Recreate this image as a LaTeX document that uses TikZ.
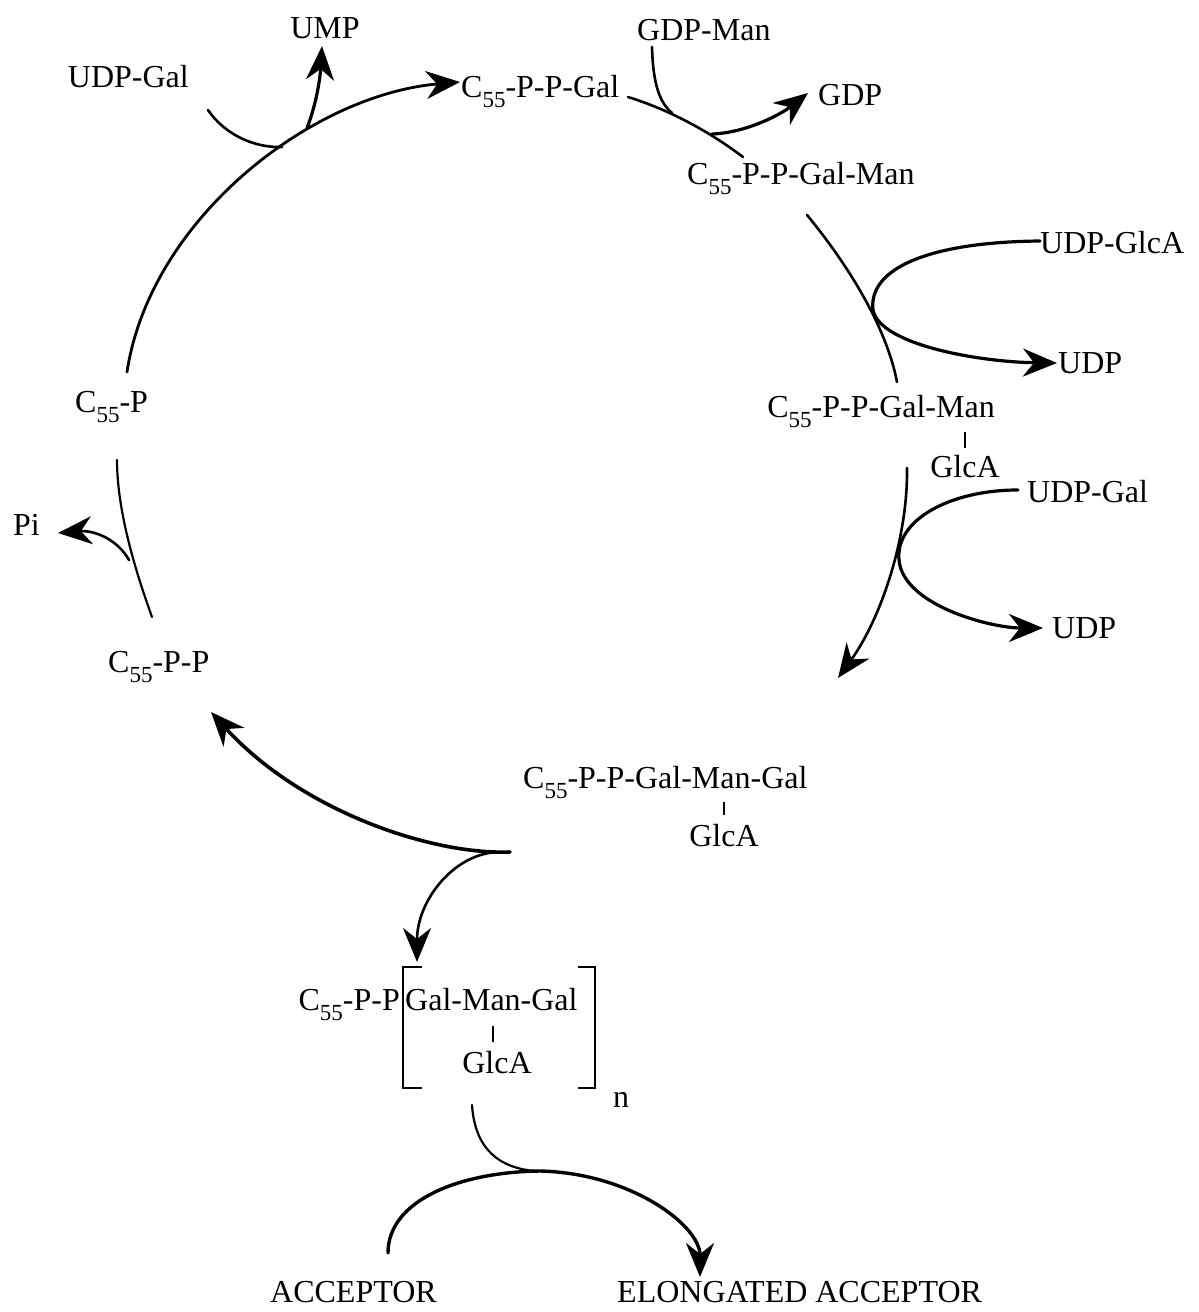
\documentclass[tikz,border=0pt]{standalone}
\usepackage{fontspec}
\setmainfont{Liberation Serif}
\usetikzlibrary{arrows.meta}
\newcommand{\cff}{C\raisebox{-10pt}{\fontsize{23}{23}\selectfont 55}}
\begin{document}
\begin{tikzpicture}[x=1pt,y=-1pt,
  lbl/.style={inner sep=0pt, font=\fontsize{32}{38}\selectfont},
  ln/.style={line width=2.6pt, line cap=round},
  thk/.style={line width=3.2pt, line cap=round},
  arr/.style={thk, -{Stealth[length=34pt,width=28pt,inset=11pt]}},
  bond/.style={line width=1.6pt},
  brk/.style={line width=2.8pt, line join=miter},
]
\useasboundingbox (0,0) rectangle (1199,1312);
% labels
\node[lbl, anchor=base east] (udpgal1) at (189,87) {UDP-Gal};
\node[lbl, anchor=base] (ump) at (325,38) {UMP};
\node[lbl, anchor=base west] (gal) at (461,97) {\cff-P-P-Gal};
\node[lbl, anchor=base west] (gdpman) at (637,40) {GDP-Man};
\node[lbl, anchor=base west] (gdp) at (818,105) {GDP};
\node[lbl, anchor=base west] (galman) at (687,184) {\cff-P-P-Gal-Man};
\node[lbl, anchor=base west] (udpglca) at (1040,253) {UDP-GlcA};
\node[lbl, anchor=base west] (udp1) at (1058,373) {UDP};
\node[lbl, anchor=base east] (galman2) at (995,417) {\cff-P-P-Gal-Man};
\node[lbl, anchor=base] (glca2) at (965,477) {GlcA};
\node[lbl, anchor=base west] (udpgal2) at (1027,502) {UDP-Gal};
\node[lbl, anchor=base west] (udp2) at (1052,638) {UDP};
\node[lbl, anchor=base west] (c55p) at (75,412) {\cff-P};
\node[lbl, anchor=base west] (pi) at (13,535) {Pi};
\node[lbl, anchor=base west] (c55pp) at (108,672) {\cff-P-P};
\node[lbl, anchor=base west] (gmg) at (523,788) {\cff-P-P-Gal-Man-Gal};
\node[lbl, anchor=base] (glca3) at (724,846) {GlcA};
\node[lbl, anchor=base east] (c55pp2) at (400,1010) {\cff-P-P};
\node[lbl, anchor=base west] (gmg2) at (405,1010) {Gal-Man-Gal};
\node[lbl, anchor=base] (glca4) at (497,1073) {GlcA};
\node[lbl, anchor=base] (nn) at (621,1107) {n};
\node[lbl, anchor=base west] (acc) at (270,1302) {ACCEPTOR};
\node[lbl, anchor=base west] (elong) at (617,1302) {ELONGATED ACCEPTOR};
% coordinates
\coordinate (a0) at (127,372); \coordinate (a1) at (460,82);
\coordinate (b0) at (208,110); \coordinate (b1) at (282,147);
\coordinate (c0) at (307,128); \coordinate (c1) at (322,46);
\coordinate (d0) at (628,97);  \coordinate (d1) at (743,157);
\coordinate (e0) at (652,47);  \coordinate (e1) at (672,113);
\coordinate (f0) at (712,134); \coordinate (f1) at (808,93);
\coordinate (g0) at (807,215); \coordinate (g1) at (897,382);
\coordinate (h0) at (1040,241); \coordinate (h1) at (873,310); \coordinate (h2) at (1057,363);
\coordinate (i0) at (907,468); \coordinate (i1) at (838,678);
\coordinate (j0) at (1018,490); \coordinate (j1) at (899,560); \coordinate (j2) at (1043,628);
\coordinate (k0) at (152,617); \coordinate (k1) at (117,460);
\coordinate (l0) at (129,560); \coordinate (l1) at (58,533);
\coordinate (m0) at (510,852); \coordinate (m1) at (211,712);
\coordinate (m2) at (500,852); \coordinate (m3) at (417,962);
\coordinate (n0) at (472,1105); \coordinate (n1) at (535,1171);
\coordinate (o0) at (388,1253); \coordinate (o1) at (540,1171); \coordinate (o2) at (700,1277);
% cycle
\draw[arr, line width=2.8pt] (a0) .. controls (150,220) and (310,95) .. (a1);
\draw[ln] (b0) .. controls (225,135) and (255,148) .. (b1);
\draw[arr] (c0) .. controls (316,105) and (320,80) .. (c1);
\draw[ln] (d0) .. controls (670,110) and (710,132) .. (d1);
\draw[ln] (e0) .. controls (653,85) and (660,103) .. (e1);
\draw[arr] (f0) .. controls (745,133) and (780,115) .. (f1);
\draw[ln] (g0) .. controls (840,255) and (885,320) .. (g1);
\draw[arr] (h0) .. controls (930,242) and (868,268) .. (h1) .. controls (880,345) and (980,362) .. (h2);
\draw[arr, line width=2.6pt] (i0) .. controls (908,540) and (880,620) .. (i1);
\draw[arr] (j0) .. controls (950,490) and (895,520) .. (j1) .. controls (903,605) and (990,628) .. (j2);
\draw[ln, line width=2.2pt] (k0) .. controls (135,570) and (117,510) .. (k1);
\draw[arr, line width=2.6pt] (l0) .. controls (118,540) and (95,530) .. (l1);
\draw[arr, line width=3.6pt] (m0) .. controls (430,855) and (300,810) .. (m1);
\draw[arr, line width=2.6pt] (m2) .. controls (455,852) and (417,900) .. (m3);
% bonds
\draw[bond] (965,432) -- (965,448);
\draw[bond] (724,802) -- (724,815);
\draw[bond] (493,1026) -- (493,1042);
% brackets
\draw[brk] (422,967) -- (403,967) -- (403,1088) -- (422,1088);
\draw[brk] (578,967) -- (595,967) -- (595,1088) -- (578,1088);
% bottom
\draw[ln, line width=2.2pt] (n0) .. controls (475,1150) and (500,1168) .. (n1);
\draw[arr, line width=3.4pt] (o0) .. controls (388,1200) and (460,1172) .. (o1) .. controls (630,1173) and (700,1225) .. (o2);
\end{tikzpicture}
\end{document}
